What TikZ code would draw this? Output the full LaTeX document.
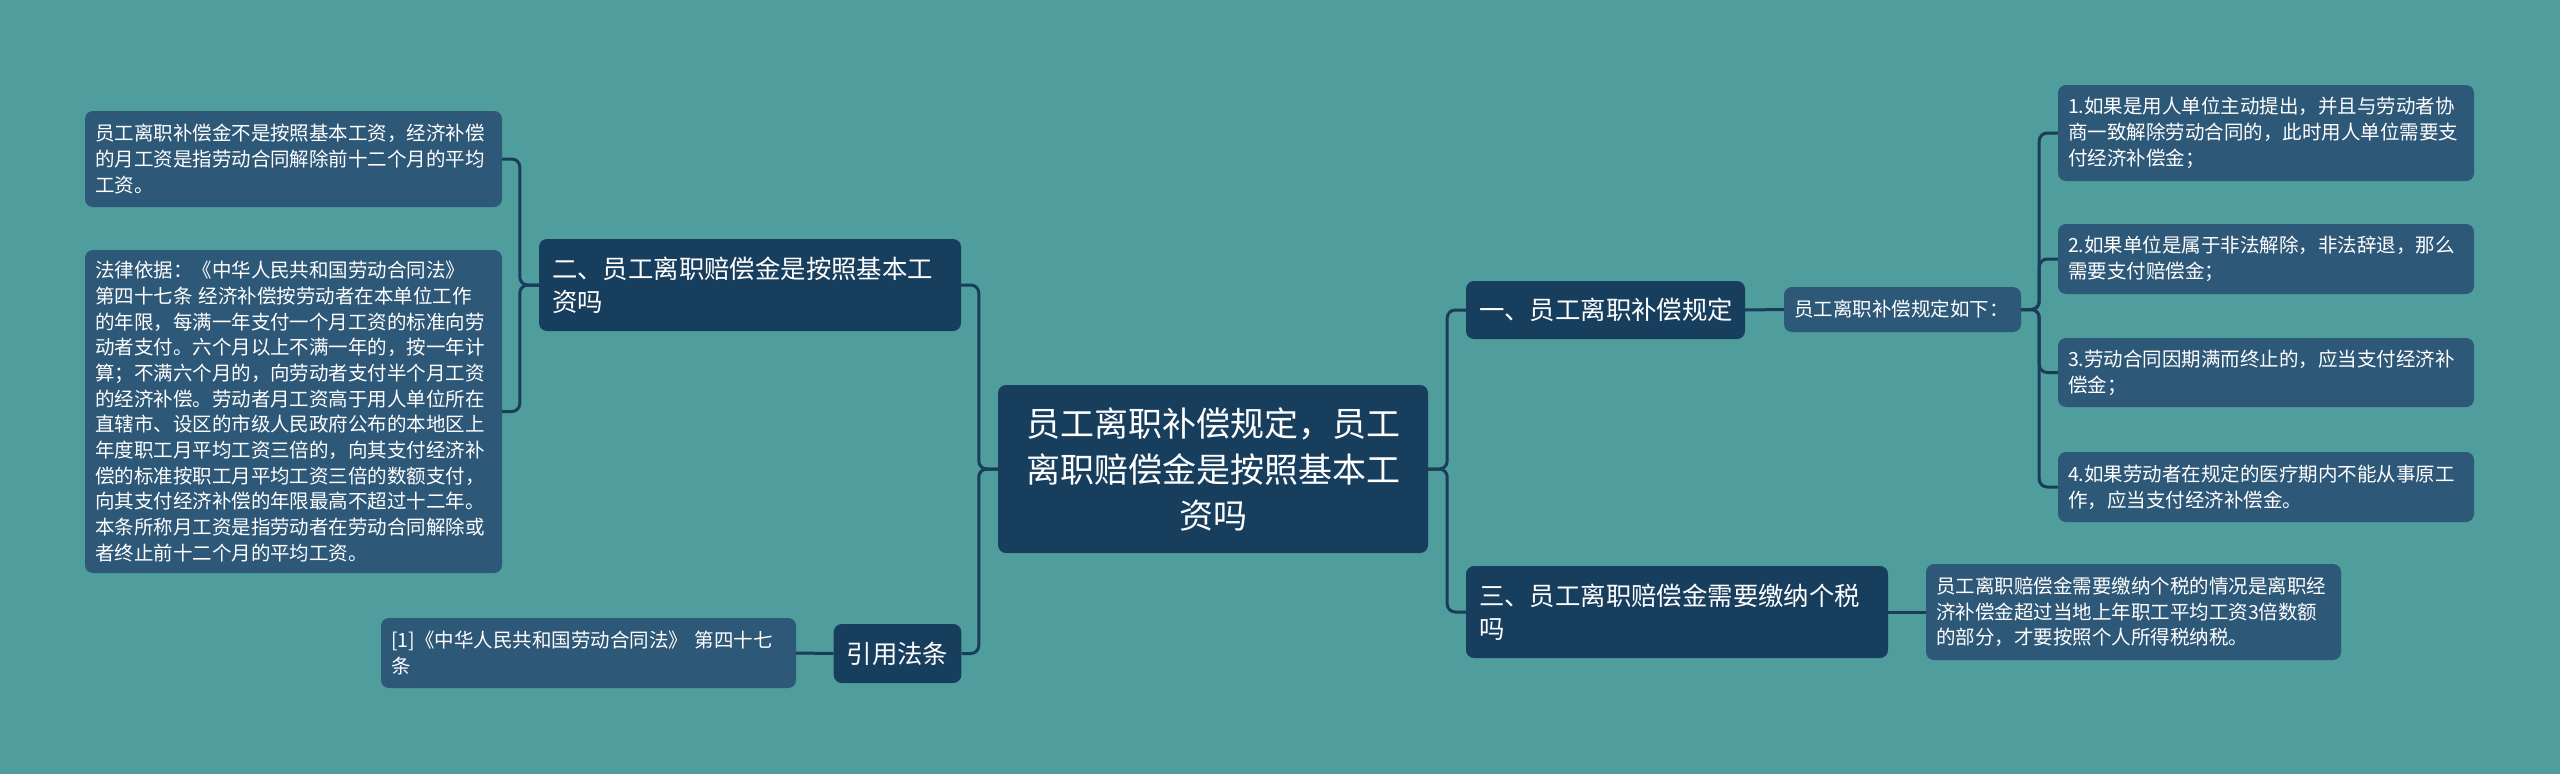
\documentclass[tikz,border=0pt]{standalone}
\usepackage{fontspec}
\setmainfont{Noto Sans CJK SC}
\definecolor{bgteal}{HTML}{4F9D9D}
\definecolor{topicblue}{HTML}{183E5E}
\definecolor{leafblue}{HTML}{2E5878}
\definecolor{linkblue}{HTML}{1A3D5B}

\begin{document}
\begin{tikzpicture}[x=1pt, y=-1pt,
    box/.style={rounded corners=8pt, text=white, inner xsep=10pt, inner ysep=0pt, align=left},
    root/.style={box, fill=topicblue, align=center, font=\fontsize{34}{46}\selectfont},
    topic/.style={box, fill=topicblue, inner xsep=13pt, font=\fontsize{25.4}{33}\selectfont},
    leaf/.style={box, fill=leafblue, font=\fontsize{19.5}{25.7}\selectfont},
    link/.style={draw=linkblue, line width=3pt, rounded corners=8pt}]

    % Background
    \path[use as bounding box, fill=bgteal] (0,0) rectangle (2560,774);

    % Central topic
    \node[root, text width=404pt, minimum width=430pt, minimum height=168pt] (root) at (1213,469)
        {员工离职补偿规定，员工\\离职赔偿金是按照基本工\\资吗};

    % Left branch: 二
    \node[topic, text width=396pt, minimum width=422pt, minimum height=92pt] (er) at (750,285)
        {二、员工离职赔偿金是按照基本工\\资吗};
    \node[leaf, text width=397pt, minimum width=417pt, minimum height=96pt] (leafa) at (293.5,159)
        {员工离职补偿金不是按照基本工资，经济补偿\\的月工资是指劳动合同解除前十二个月的平均\\工资。};
    \node[leaf, text width=397pt, minimum width=417pt, minimum height=323pt] (leafb) at (293.5,411.5)
        {法律依据：《中华人民共和国劳动合同法》\\第四十七条 经济补偿按劳动者在本单位工作\\的年限，每满一年支付一个月工资的标准向劳\\动者支付。六个月以上不满一年的，按一年计\\算；不满六个月的，向劳动者支付半个月工资\\的经济补偿。劳动者月工资高于用人单位所在\\直辖市、设区的市级人民政府公布的本地区上\\年度职工月平均工资三倍的，向其支付经济补\\偿的标准按职工月平均工资三倍的数额支付，\\向其支付经济补偿的年限最高不超过十二年。\\本条所称月工资是指劳动者在劳动合同解除或\\者终止前十二个月的平均工资。};

    % Left branch: 引用法条
    \node[topic, minimum width=127pt, minimum height=59pt, align=center] (yin) at (897.5,653.5) {引用法条};
    \node[leaf, text width=395pt, minimum width=415pt, minimum height=70pt] (law) at (588.5,653)
        {[1]《中华人民共和国劳动合同法》 第四十七\\条};

    % Right branch: 一
    \node[topic, text width=253pt, minimum width=279pt, minimum height=58pt] (yi) at (1605.5,310)
        {一、员工离职补偿规定};
    \node[leaf, text width=217pt, minimum width=237pt, minimum height=45pt] (rule) at (1902.5,309.5)
        {员工离职补偿规定如下：};
    \node[leaf, text width=396pt, minimum width=416pt, minimum height=96pt] (ra) at (2266,133)
        {1.如果是用人单位主动提出，并且与劳动者协\\商一致解除劳动合同的，此时用人单位需要支\\付经济补偿金；};
    \node[leaf, text width=396pt, minimum width=416pt, minimum height=70pt] (rb) at (2266,259)
        {2.如果单位是属于非法解除，非法辞退，那么\\需要支付赔偿金；};
    \node[leaf, text width=396pt, minimum width=416pt, minimum height=69pt] (rc) at (2266,372.5)
        {3.劳动合同因期满而终止的，应当支付经济补\\偿金；};
    \node[leaf, text width=396pt, minimum width=416pt, minimum height=70pt] (rd) at (2266,487)
        {4.如果劳动者在规定的医疗期内不能从事原工\\作，应当支付经济补偿金。};

    % Right branch: 三
    \node[topic, text width=396pt, minimum width=422pt, minimum height=92pt] (san) at (1677,612)
        {三、员工离职赔偿金需要缴纳个税\\吗};
    \node[leaf, text width=395pt, minimum width=415pt, minimum height=96pt] (tax) at (2133.5,612)
        {员工离职赔偿金需要缴纳个税的情况是离职经\\济补偿金超过当地上年职工平均工资3倍数额\\的部分，才要按照个人所得税纳税。};

    % Connectors
    \draw[link] (root.west) -- ++(-19,0) |- (er.east);
    \draw[link] (root.west) -- ++(-19,0) |- (yin.east);
    \draw[link] (er.west) -- ++(-19,0) |- (leafa.east);
    \draw[link] (er.west) -- ++(-19,0) |- (leafb.east);
    \draw[link] (yin.west) -- (law.east);
    \draw[link] (root.east) -- ++(19,0) |- (yi.west);
    \draw[link] (root.east) -- ++(19,0) |- (san.west);
    \draw[link] (yi.east) -- (rule.west);
    \draw[link] (san.east) -- (tax.west);
    \foreach \n in {ra,rb,rc,rd}
        \draw[link] (rule.east) -- ++(18,0) |- (\n.west);
\end{tikzpicture}
\end{document}
